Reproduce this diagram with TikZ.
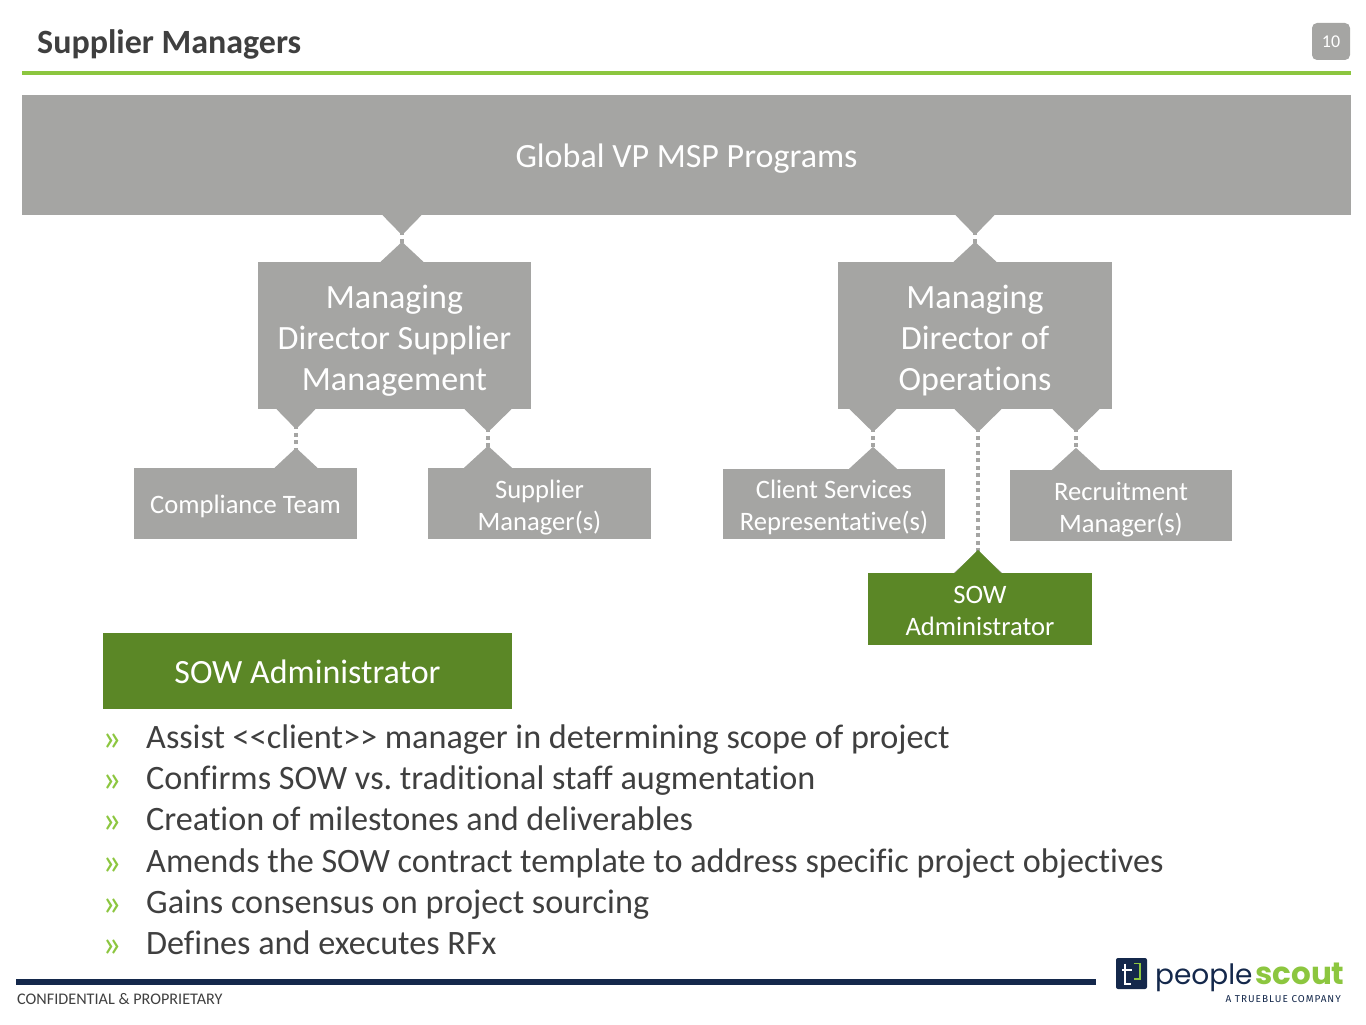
\documentclass[tikz,border=0pt]{standalone}
\usepackage{xcolor}
\usepackage{fontspec}
\setmainfont{Carlito}[Ligatures=NoCommon]
\newfontfamily\logofont{Poppins}
\newfontfamily\subfont[LetterSpace=10]{Fira Sans}
\usetikzlibrary{arrows.meta, positioning}
\definecolor{boxgrey}{HTML}{A5A5A3}
\definecolor{sowgreen}{HTML}{5B8726}
\definecolor{rulegreen}{HTML}{8CC63F}
\definecolor{navy}{HTML}{14284B}
\definecolor{inktext}{HTML}{3F3F3F}
\tikzset{
  drop/.style 2 args={execute at begin node={\rule{0pt}{#1}}, execute at end node={\rule[-#2]{0pt}{0pt}}},
  box/.style={rectangle, fill=boxgrey, text=white, inner sep=0pt, align=center},
  bigbox/.style={box, font=\fontsize{34}{41}\selectfont},
  smallbox/.style={box, minimum width=223pt, font=\fontsize{26.6}{32}\selectfont},
  link/.style={draw=boxgrey, line width=4pt, dash pattern=on 4pt off 3.5pt,
    {Triangle[reversed, length=20pt, width=38pt]}-{Triangle[reversed, length=20pt, width=42pt]}},
  widelink/.style={draw=boxgrey, line width=4pt, dash pattern=on 4pt off 3.5pt,
    {Triangle[reversed, length=23pt, width=46pt]}-{Triangle[reversed, length=22pt, width=47pt]}},
  item/.style={anchor=base west, inner sep=0pt, text=inktext, font=\fontsize{34.2}{41}\selectfont},
  bullet/.style={anchor=base west, inner sep=0pt, text=rulegreen, font=\fontsize{38}{40}\selectfont},
}
\begin{document}
\begin{tikzpicture}[x=1pt, y=-1pt]
    \useasboundingbox (0,0) rectangle (1366,1025);

    % header
    \node (title) [anchor=base west, inner sep=0pt, text=inktext, font=\fontsize{34}{40}\selectfont\bfseries] at (37,54) {Supplier Managers};
    \node (pagenum) [rectangle, rounded corners=5pt, fill=boxgrey, text=white, minimum width=38pt, minimum height=37pt, inner sep=0pt, font=\fontsize{18}{20}\selectfont] at (1331,41.5) {10};
    \node (toprule) [rectangle, fill=rulegreen, minimum width=1329pt, minimum height=4pt, inner sep=0pt] at (686.5,73) {};

    % org chart
    \node (global) [bigbox, drop={32pt}{8pt}, minimum width=1329pt, minimum height=120pt] at (686.5,155) {Global VP MSP Programs};
    \node (mdsupplier) [bigbox, drop={117pt}{8pt}, minimum width=273pt, minimum height=147pt] at (394.5,335.5) {Managing\\Director Supplier\\Management};
    \node (mdops) [bigbox, drop={117pt}{8pt}, minimum width=274pt, minimum height=147pt] at (975,335.5) {Managing\\Director of\\Operations};
    \node (compliance) [smallbox, drop={26pt}{5.5pt}, minimum height=71pt] at (245.5,503.5) {Compliance Team};
    \node (suppliermgr) [smallbox, drop={59pt}{6pt}, minimum height=71pt] at (539.5,503.5) {Supplier\\Manager(s)};
    \node (clientrep) [smallbox, drop={59pt}{6pt}, minimum width=222pt, minimum height=70pt] at (834,504) {Client Services\\Representative(s)};
    \node (recruitmgr) [smallbox, drop={59pt}{6pt}, minimum width=222pt, minimum height=71pt] at (1121,505.5) {Recruitment\\Manager(s)};
    \node (sowbox) [smallbox, drop={59pt}{6pt}, fill=sowgreen, minimum width=224pt, minimum height=72pt] at (980,609) {SOW\\Administrator};

    % x of each link
    \coordinate (xa) at (402,0);
    \coordinate (xb) at (975,0);
    \coordinate (xc) at (296,0);
    \coordinate (xd) at (488,0);
    \coordinate (xe) at (873,0);
    \coordinate (xf) at (978,0);
    \coordinate (xg) at (1076,0);

    \draw [link] (global.south -| xa) -- (mdsupplier.north -| xa);
    \draw [link] (global.south -| xb) -- (mdops.north -| xb);
    \draw [link] (mdsupplier.south -| xc) -- (compliance.north -| xc);
    \draw [widelink] (mdsupplier.south -| xd) -- (suppliermgr.north -| xd);
    \draw [widelink] (mdops.south -| xe) -- (clientrep.north -| xe);
    \draw [widelink] (mdops.south -| xf) -- (sowbox.north -| xf);
    \draw [widelink] (mdops.south -| xg) -- (recruitmgr.north -| xg);
    % green tip on top of the last one
    \fill [sowgreen] (sowbox.north -| xf) ++(-23,0) -- ++(23,-23) -- ++(23,23) -- cycle;

    % lower part
    \node (sowhead) [box, drop={31pt}{7pt}, fill=sowgreen, minimum width=409pt, minimum height=76pt, font=\fontsize{34}{41}\selectfont] at (307.5,671) {SOW Administrator};

    \node (b1) [bullet] at (102,750) {»};
    \node (b2) [bullet] at (102,791) {»};
    \node (b3) [bullet] at (102,832) {»};
    \node (b4) [bullet] at (102,874) {»};
    \node (b5) [bullet] at (102,915) {»};
    \node (b6) [bullet] at (102,956) {»};
    \node (t1) [item] at (146,748) {Assist <{}<client>{}> manager in determining scope of project};
    \node (t2) [item] at (146,789) {Confirms SOW vs.\ traditional staff augmentation};
    \node (t3) [item] at (146,830) {Creation of milestones and deliverables};
    \node (t4) [item] at (146,872) {Amends the SOW contract template to address specific project objectives};
    \node (t5) [item] at (146,913) {Gains consensus on project sourcing};
    \node (t6) [item] at (146,954) {Defines and executes RFx};

    % footer
    \node (footrule) [rectangle, fill=navy, minimum width=1080pt, minimum height=6pt, inner sep=0pt] at (556,982) {};
    \node (conf) [anchor=west, inner sep=0pt, text=inktext, font=\fontsize{16.2}{18}\selectfont] at (17,999) {CONFIDENTIAL \& PROPRIETARY};

    % logo
    \node (logomark) [rectangle, rounded corners=2pt, fill=navy, minimum width=31pt, minimum height=31pt, inner sep=0pt] at (1131.5,973.5) {};
    \draw [white, line width=1.6pt] (1125,963.5) -- (1125,984) -- (1131,984);
    \draw [white, line width=1.6pt] (1122,970) -- (1132,970);
    \draw [rulegreen, line width=1.6pt] (1134,963.5) -- (1140,963.5) -- (1140,979) -- (1134,979);
    \node (people) [anchor=base west, inner sep=0pt, text=navy, font=\fontsize{28}{30}\logofont] at (1155,984) {people};
    \node (scout) [anchor=base west, inner sep=0pt, text=rulegreen, font=\fontsize{31}{32}\logofont\bfseries] at (1255,984) {scout};
    \node (tagline) [anchor=east, inner sep=0pt, text=navy, font=\fontsize{10}{12}\subfont] at (1341,999.5) {A TRUEBLUE COMPANY};
\end{tikzpicture}
\end{document}
